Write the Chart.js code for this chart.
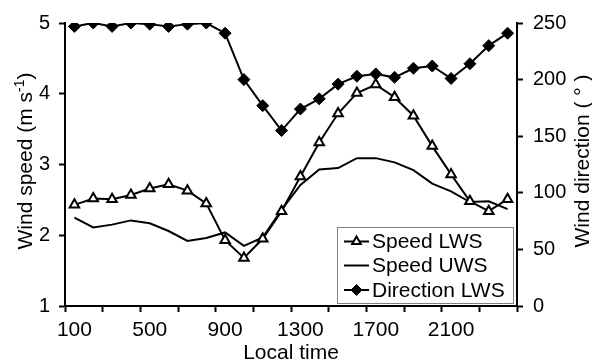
<!DOCTYPE html>
<html>
<head>
<meta charset="utf-8">
<script src="https://cdn.jsdelivr.net/npm/chart.js@4/dist/chart.umd.min.js"></script>
<style>
  body { margin: 0; background: #fff; }
  #contenedor { width: 592px; height: 362px; }
</style>
</head>
<body>
<div id="contenedor"><canvas id="grafica" width="592" height="362"></canvas></div>
<script>
const horas = ["100", "200", "300", "400", "500", "600", "700", "800", "900", "1000", "1100", "1200",
  "1300", "1400", "1500", "1600", "1700", "1800", "1900", "2000", "2100", "2200", "2300", "2400"];
const etiquetasX = ["100", "500", "900", "1300", "1700", "2100"];

const velocidadLWS = [2.43, 2.52, 2.51, 2.57, 2.66, 2.72, 2.63, 2.45, 1.93, 1.68, 1.95, 2.34,
  2.83, 3.31, 3.72, 4.01, 4.13, 3.95, 3.69, 3.26, 2.86, 2.48, 2.34, 2.51];
const velocidadUWS = [2.25, 2.11, 2.15, 2.21, 2.17, 2.06, 1.92, 1.96, 2.04, 1.85, 1.97, 2.36,
  2.71, 2.93, 2.95, 3.09, 3.09, 3.03, 2.92, 2.73, 2.62, 2.47, 2.48, 2.37];
const direccionLWS = [247, 250, 247, 250, 249, 247, 249, 250, 241, 200, 177, 155,
  174, 183, 196, 203, 205, 202, 210, 212, 201, 214, 230, 241];

const nombresSeries = ["Speed LWS", "Speed UWS", "Direction LWS"];

const fuente = '"Liberation Sans", Arial, sans-serif';

// texto girado -90 grados, centrado en (x, y); x es la linea base
function textoVertical(ctx, partes, x, y) {
  ctx.save();
  ctx.translate(x, y);
  ctx.rotate(-Math.PI / 2);
  ctx.textAlign = "left";
  ctx.textBaseline = "alphabetic";
  let total = 0;
  partes.forEach(p => {
    ctx.font = `${p.tamano}px ${fuente}`;
    p.ancho = ctx.measureText(p.texto).width;
    total += p.ancho;
  });
  let pos = -total / 2;
  partes.forEach(p => {
    ctx.font = `${p.tamano}px ${fuente}`;
    ctx.fillText(p.texto, pos, -(p.subir || 0));
    pos += p.ancho;
  });
  ctx.restore();
}

function marcador(ctx, estilo, radio, x, y) {
  if (Chart.helpers && Chart.helpers.drawPoint) {
    Chart.helpers.drawPoint(ctx, { pointStyle: estilo, radius: radio, rotation: 0, borderWidth: ctx.lineWidth }, x, y);
  }
}

const titulosYLeyenda = {
  id: "titulosYLeyenda",
  afterDraw(chart) {
    const ctx = chart.ctx;
    const area = chart.chartArea;
    ctx.save();
    ctx.fillStyle = "#000";

    // titulo eje x
    ctx.font = `21px ${fuente}`;
    ctx.textAlign = "center";
    ctx.textBaseline = "alphabetic";
    ctx.fillText("Local time", (area.left + area.right) / 2, 359);

    // titulos ejes y
    textoVertical(ctx, [
      { texto: "Wind speed (m s", tamano: 21 },
      { texto: "-1", tamano: 14, subir: 8 },
      { texto: ")", tamano: 21 }
    ], 32, 161);
    textoVertical(ctx, [{ texto: "Wind direction ( ° )", tamano: 21 }], 589, 161);

    // leyenda
    const caja = { x: 337.5, y: 227.5, w: 176, h: 76 };
    ctx.fillStyle = "#fff";
    ctx.fillRect(caja.x, caja.y, caja.w, caja.h);
    ctx.strokeStyle = "#808080";
    ctx.lineWidth = 1;
    ctx.strokeRect(caja.x, caja.y, caja.w, caja.h);

    const filas = [241.5, 265.5, 290];
    const estilos = [
      { estilo: "triangle", radio: 5, relleno: "#fff" },
      null,
      { estilo: "rectRot", radio: 5.5, relleno: "#000" }
    ];
    nombresSeries.forEach((nombre, i) => {
      const y = filas[i];
      ctx.strokeStyle = "#000";
      ctx.lineWidth = 2;
      ctx.beginPath();
      ctx.moveTo(344, y);
      ctx.lineTo(369, y);
      ctx.stroke();
      if (estilos[i]) {
        ctx.fillStyle = estilos[i].relleno;
        ctx.lineWidth = estilos[i].estilo === "triangle" ? 2 : 1;
        marcador(ctx, estilos[i].estilo, estilos[i].radio, 356.5, y);
      }
      ctx.fillStyle = "#000";
      ctx.font = `21px ${fuente}`;
      ctx.textAlign = "left";
      ctx.textBaseline = "middle";
      ctx.fillText(nombre, 372, y + 1);
    });

    ctx.restore();
  }
};

const ejeY = {
  grid: { drawOnChartArea: false, tickLength: 6, tickWidth: 2, tickColor: "#000" },
  border: { color: "#000", width: 2 },
  ticks: { color: "#000", font: { family: fuente, size: 20 }, padding: 9 }
};

new Chart(document.getElementById("grafica"), {
  type: "line",
  data: {
    labels: horas,
    datasets: [
      {
        label: nombresSeries[0],
        data: velocidadLWS,
        yAxisID: "y",
        borderColor: "#000",
        borderWidth: 2,
        pointStyle: "triangle",
        pointRadius: 5.5,
        pointBackgroundColor: "#fff",
        pointBorderColor: "#000",
        pointBorderWidth: 2
      },
      {
        label: nombresSeries[1],
        data: velocidadUWS,
        yAxisID: "y",
        borderColor: "#000",
        borderWidth: 2,
        pointRadius: 0
      },
      {
        label: nombresSeries[2],
        data: direccionLWS,
        yAxisID: "y2",
        borderColor: "#000",
        borderWidth: 2,
        pointStyle: "rectRot",
        pointRadius: 6,
        pointBackgroundColor: "#000",
        pointBorderColor: "#000",
        pointBorderWidth: 1
      }
    ]
  },
  options: {
    responsive: false,
    animation: false,
    events: [],
    layout: { padding: { top: 23 } },
    plugins: {
      legend: { display: false },
      tooltip: { enabled: false }
    },
    scales: {
      x: {
        offset: true,
        grid: {
          offset: true,
          drawOnChartArea: false,
          tickLength: 6,
          tickWidth: 2,
          tickColor: ctx => ((ctx.index ?? 0) % 2 === 0 ? "#000" : "rgba(0,0,0,0)")
        },
        border: { color: "#000", width: 2 },
        ticks: {
          autoSkip: false,
          maxRotation: 0,
          color: "#000",
          font: { family: fuente, size: 21 },
          padding: 6,
          callback: function (valor) {
            const etiqueta = this.getLabelForValue(valor);
            return etiquetasX.includes(etiqueta) ? etiqueta : "";
          }
        },
        afterFit: s => { s.height = 56; }
      },
      y: {
        ...ejeY,
        position: "left",
        min: 1,
        max: 5,
        ticks: { ...ejeY.ticks, stepSize: 1 },
        afterFit: s => { s.width = 65; }
      },
      y2: {
        ...ejeY,
        position: "right",
        min: 0,
        max: 250,
        ticks: { ...ejeY.ticks, stepSize: 50, padding: 10 },
        afterFit: s => { s.width = 75; }
      }
    }
  },
  plugins: [titulosYLeyenda]
});
</script>
</body>
</html>
